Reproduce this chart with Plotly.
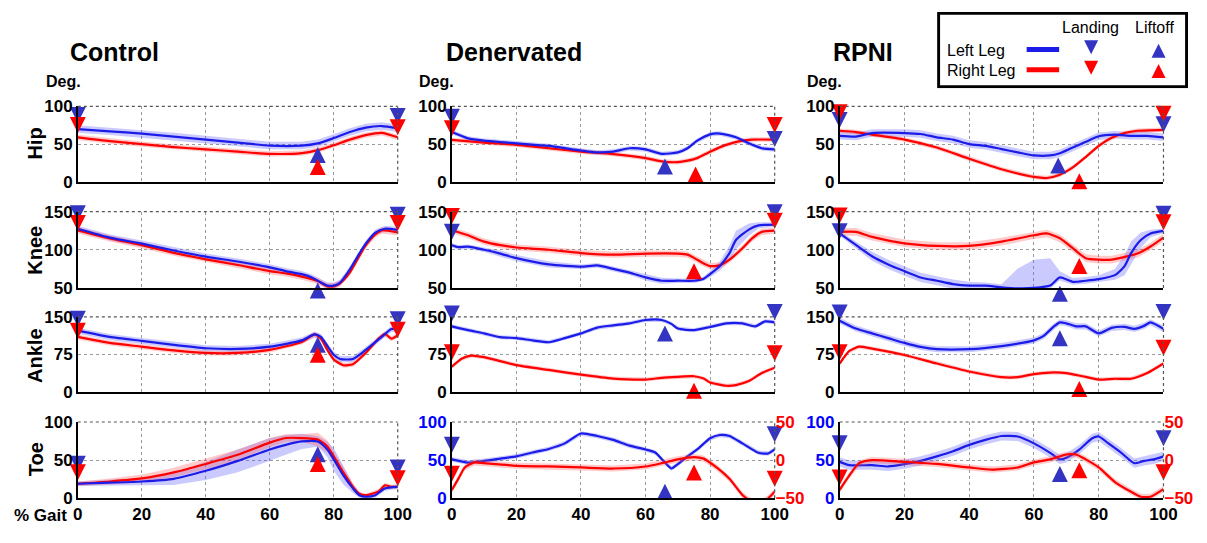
import plotly.graph_objects as go

W, H = 1207, 543
FONT = "Liberation Sans"

# ------------------------------------------------------------------ data
gait_ticks = [0, 20, 40, 60, 80, 100]
col_titles = ["Control", "Denervated", "RPNI"]
row_titles = ["Hip", "Knee", "Ankle", "Toe"]
row_ranges = [[0, 100], [50, 150], [0, 150], [0, 100]]
row_ticks = [[0, 50, 100], [50, 100, 150], [0, 75, 150], [0, 50, 100]]
toe_right_range = [-50, 50]
toe_right_ticks = [-50, 0, 50]

# ---- Control
ctrl_hip_L_x = [0, 10, 20, 30, 40, 50, 60, 70, 75, 80, 85, 90, 95, 100]
ctrl_hip_L_y = [70, 67, 64, 60, 56, 52, 48, 48, 51, 58, 66, 72, 74, 71]
ctrl_hip_R_x = [0, 10, 20, 30, 40, 50, 60, 70, 75, 80, 85, 90, 95, 100]
ctrl_hip_R_y = [59, 54, 50, 46, 43, 40, 37, 38, 42, 48.5, 56, 62, 65, 59]
ctrl_hip_L_sd = 5
ctrl_hip_R_sd = 3.5

ctrl_knee_L_x = [0, 10, 20, 30, 40, 50, 60, 65, 70, 73, 76, 78, 80, 82, 85, 88, 90, 93, 96, 100]
ctrl_knee_L_y = [127.6, 116, 108, 99, 91, 84.6, 77, 72, 68, 64, 57, 53, 53, 57, 74, 95, 108, 122.6, 127.6, 126]
ctrl_knee_R_x = [0, 10, 20, 30, 40, 50, 60, 65, 70, 75, 78, 80, 82, 85, 88, 90, 93, 95, 100]
ctrl_knee_R_y = [125.5, 115, 106, 96, 87.5, 80, 72, 69, 64.8, 59, 52, 52, 56, 70, 92, 105.7, 120, 125.5, 122.6]
ctrl_knee_L_sd = 4
ctrl_knee_R_sd = 4

ctrl_ankle_L_x = [0, 10, 20, 30, 40, 50, 60, 70, 74, 76, 78, 80, 82, 86, 90, 95, 98, 100]
ctrl_ankle_L_y = [122.5, 110, 102, 94, 87.4, 86, 90.6, 103, 115, 110, 92, 74.6, 66, 66, 84, 110, 125.7, 125.7]
ctrl_ankle_R_x = [0, 10, 20, 30, 40, 50, 60, 70, 74, 76, 78, 80, 83, 86, 90, 94, 96, 98, 100]
ctrl_ankle_R_y = [110, 98, 90.6, 83, 78, 78, 84, 100, 115, 106.5, 84, 65, 53.6, 55.5, 78, 106.5, 116, 106.5, 113]
ctrl_ankle_L_sd = 6
ctrl_ankle_R_sd = 5

ctrl_toe_L_x = [0, 10, 20, 30, 40, 50, 60, 65, 70, 75, 78, 80, 83, 86, 88, 90, 93, 96, 100]
ctrl_toe_L_y = [19, 20.4, 22, 25.5, 36, 49, 64, 70, 74.5, 74.5, 64, 51, 30, 13, 4, 2, 4, 13, 15]
ctrl_toe_L_sd = [3, 4, 5, 8, 12, 15, 15, 13, 10, 7, 10, 15, 12, 6, 3, 2, 3, 3, 3]
ctrl_toe_R_x = [0, 10, 20, 30, 40, 50, 60, 65, 70, 75, 78, 80, 83, 86, 88, 90, 94, 96, 98, 100]
ctrl_toe_R_y = [19, 22, 26, 34, 45, 57, 73, 79, 79, 77, 68, 55, 34, 15, 6, 4, 9, 17, 15, 15]
ctrl_toe_R_sd = [3, 4, 5, 6, 7, 7, 6, 5, 5, 9, 8, 7, 6, 5, 3, 2, 3, 3, 3, 3]

# ---- Denervated
den_hip_L_x = [0, 5, 10, 20, 30, 40, 45, 50, 55, 60, 65, 70, 73, 76, 80, 83, 88, 92, 96, 100]
den_hip_L_y = [66, 57.6, 54.6, 51, 47.6, 41.5, 39, 40, 44.5, 43, 37, 39, 44.5, 54.6, 63, 64, 59, 51, 44.5, 43]
den_hip_R_x = [0, 10, 20, 30, 40, 50, 60, 65, 70, 73, 76, 80, 85, 90, 93, 100]
den_hip_R_y = [55.5, 52, 49, 44.5, 40, 36.7, 31.4, 27, 26, 28, 31.4, 40, 49, 54.6, 56, 56]
den_hip_L_sd = 3
den_hip_R_sd = 3

den_knee_L_x = [0, 2, 5, 10, 15, 20, 30, 40, 45, 50, 55, 60, 65, 70, 75, 78, 80, 83, 86, 88, 92, 95, 100]
den_knee_L_y = [106, 103.4, 104, 100, 95, 89, 80.8, 77.8, 79.5, 75, 70, 63.7, 59.4, 59.4, 59.4, 62, 68, 78.6, 95.7, 112.8, 126.5, 132, 133]
den_knee_L_sd = [3, 3, 3, 3, 4, 4, 4, 3, 3, 3, 3, 4, 4, 3, 3, 3, 4, 6, 10, 12, 8, 4, 3]
den_knee_R_x = [0, 5, 10, 15, 20, 30, 40, 50, 60, 70, 73, 76, 78, 80, 83, 86, 90, 93, 96, 100]
den_knee_R_y = [125.6, 119, 110.7, 106, 103, 100, 95.7, 93.6, 95, 95, 93.6, 87, 82, 78.6, 79.5, 87, 102, 115, 123.5, 125]
den_knee_R_sd = 4

den_ankle_L_x = [0, 5, 10, 15, 20, 25, 30, 35, 40, 45, 50, 55, 60, 65, 68, 70, 75, 80, 85, 90, 94, 97, 100]
den_ankle_L_y = [131, 123.4, 117, 109.5, 107.6, 103, 99.4, 107.6, 117, 128.5, 133, 137, 143.7, 143.7, 136, 126.6, 123.4, 129.8, 137, 137, 131, 141, 139]
den_ankle_R_x = [0, 3, 6, 10, 20, 30, 40, 50, 60, 65, 70, 75, 78, 80, 85, 88, 92, 96, 100]
den_ankle_R_y = [50.6, 66.5, 72.8, 69.6, 53.8, 44.3, 34.8, 27, 25, 28.5, 30.4, 31.6, 27, 19, 12.7, 14, 22, 38, 48.7]
den_ankle_L_sd = 4
den_ankle_R_sd = 4

den_toe_L_x = [0, 5, 10, 15, 20, 25, 30, 35, 40, 45, 50, 55, 60, 63, 66, 68, 70, 73, 76, 80, 83, 86, 90, 95, 98, 100]
den_toe_L_y = [51, 46.8, 49, 52, 55, 60, 64.7, 72, 85, 81.7, 76.6, 69, 64, 60, 46.8, 39, 44.7, 55, 64, 78.7, 83, 81.7, 72, 59.6, 58.7, 64]
den_toe_R_x = [0, 2, 4, 7, 10, 20, 30, 40, 50, 60, 65, 70, 75, 78, 82, 86, 90, 92, 95, 98, 100]
den_toe_R_y = [-39, -24.5, -9.6, -3, -4, -7.4, -8.3, -9.6, -11, -8.3, -4, 1, 4, 2, -9.6, -24.5, -45.7, -52, -58, -50, -41.5]
den_toe_L_sd = 3
den_toe_R_sd = 4

# ---- RPNI
rpni_hip_L_x = [0, 5, 10, 20, 25, 30, 35, 40, 45, 50, 55, 60, 65, 68, 72, 76, 80, 85, 90, 95, 100]
rpni_hip_L_y = [61, 60, 64.7, 64.7, 63.4, 59, 56, 50, 47.7, 43.4, 39, 34.9, 34.9, 37.9, 45.5, 53, 60.4, 62.5, 61, 61, 59]
rpni_hip_R_x = [0, 5, 10, 20, 30, 40, 50, 60, 64, 68, 72, 76, 80, 84, 88, 92, 100]
rpni_hip_R_y = [67.7, 66, 62.5, 56, 45.5, 30.6, 16.6, 6.4, 5, 9.4, 19, 32.8, 47.7, 58.3, 64.7, 67.7, 69]
rpni_hip_L_sd = 5
rpni_hip_R_sd = 3

rpni_knee_L_x = [0, 5, 10, 15, 20, 25, 30, 35, 40, 45, 50, 55, 60, 65, 68, 72, 76, 80, 85, 88, 90, 93, 96, 100]
rpni_knee_L_y = [121.4, 106.4, 91.5, 80.8, 72, 63.7, 59.4, 55, 53, 53, 50.8, 49.5, 50, 53, 63.7, 58, 59.4, 61.5, 66.7, 78.6, 95.7, 112.8, 121.4, 124.8]
rpni_knee_L_sd_hi = [3, 5, 6, 6, 6, 6, 6, 6, 5, 4, 4, 26, 37, 36, 8, 5, 5, 5, 8, 15, 15, 10, 5, 3]
rpni_knee_L_sd_lo = [3, 5, 6, 6, 6, 6, 6, 6, 5, 4, 4, 4, 4, 4, 4, 4, 4, 4, 6, 12, 15, 10, 5, 3]
rpni_knee_R_x = [0, 5, 10, 20, 30, 40, 50, 60, 64, 68, 72, 76, 80, 84, 88, 92, 96, 100]
rpni_knee_R_y = [123.5, 123.5, 117, 108.5, 105, 105, 110.7, 119, 121.4, 115, 102, 89, 87, 87, 90.6, 95, 104.3, 116]
rpni_knee_R_sd = 5

rpni_ankle_L_x = [0, 5, 10, 15, 20, 25, 30, 40, 50, 60, 63, 66, 68, 70, 73, 76, 80, 84, 88, 91, 94, 96, 100]
rpni_ankle_L_y = [142.4, 126.6, 117, 107.6, 98, 90, 85.5, 85.5, 91.8, 103, 112, 130, 139, 137, 131, 131, 117, 128, 130, 126, 132, 139, 126]
rpni_ankle_R_x = [0, 3, 6, 10, 20, 30, 40, 50, 55, 60, 65, 70, 75, 80, 85, 90, 95, 100]
rpni_ankle_R_y = [57, 82, 90.5, 86.7, 74, 57, 41, 29.8, 29.8, 36, 39, 38, 31.6, 25, 26.6, 26.6, 38, 57]
rpni_ankle_L_sd = 6
rpni_ankle_R_sd = 4

rpni_toe_L_x = [0, 3, 10, 15, 20, 25, 30, 35, 40, 45, 50, 55, 60, 65, 68, 70, 74, 78, 80, 83, 87, 91, 94, 97, 100]
rpni_toe_L_y = [47.7, 43.4, 43.4, 41.7, 44.7, 49, 55, 61.7, 70, 76.6, 81.7, 81, 72, 59.6, 51, 53, 63.8, 78.7, 81, 72, 59.6, 46, 49, 51, 55]
rpni_toe_R_x = [0, 3, 6, 10, 20, 30, 40, 47, 55, 60, 65, 70, 73, 76, 80, 85, 90, 93, 96, 100]
rpni_toe_R_y = [-39, -20, -4, 0, -2.3, -5, -9.6, -12.5, -9.6, -3, 1, 7.4, 7.4, 1, -9.6, -28.7, -41.5, -48, -48, -38]
rpni_toe_L_sd = 6
rpni_toe_R_sd = 4

# ---- gait events (value at the triangle's tip): landing at 0% and 100%, liftoff (x, value)
ctrl_hip_land_L, ctrl_hip_land_R = [78, 76.7], [64.7, 61.7]
ctrl_hip_lift_L, ctrl_hip_lift_R = [75, 46.3], [75, 30.3]
ctrl_knee_land_L, ctrl_knee_land_R = [137.5, 135.4], [124.7, 124.7]
ctrl_knee_lift_L, ctrl_knee_lift_R = [75, 57], [75, 42.3]
ctrl_ankle_land_L, ctrl_ankle_land_R = [130.5, 129.1], [106.5, 108.5]
ctrl_ankle_lift_L, ctrl_ankle_lift_R = [75, 110.5], [75, 90.5]
ctrl_toe_land_L, ctrl_toe_land_R = [34.7, 29.7], [23.7, 15.7]
ctrl_toe_lift_L, ctrl_toe_lift_R = [75, 68.3], [75, 55.3]

den_hip_land_L, den_hip_land_R = [75.7, 46.3], [60.3, 64.7]
den_hip_lift_L, den_hip_lift_R = [66, 31], [75.5, 20.3]
den_knee_land_L, den_knee_land_R = [113.1, 138.7], [133.7, 127.7]
den_knee_lift_L, den_knee_lift_R = [66, 48.3], [75, 82.3]
den_ankle_land_L, den_ankle_land_R = [140.5, 143.5], [63.5, 61.5]
den_ankle_lift_L, den_ankle_lift_R = [66, 132.5], [75, 18.5]
den_toe_land_L, den_toe_land_R = [59.7, 73.4], [-28.3, -34.9]
den_toe_lift_L, den_toe_lift_R = [66, 18.9], [75, -5.7]

rpni_hip_land_L, rpni_hip_land_R = [71.3, 65.7], [81.7, 79.7]
rpni_hip_lift_L, rpni_hip_lift_R = [67.5, 32.3], [74, 11.3]
rpni_knee_land_L, rpni_knee_land_R = [113.7, 136.7], [134.4, 125.7]
rpni_knee_lift_L, rpni_knee_lift_R = [68, 52.7], [74, 89.1]
rpni_ankle_land_L, rpni_ankle_land_R = [142.5, 143.5], [63.5, 72.5]
rpni_ankle_lift_L, rpni_ankle_lift_R = [68, 123.3], [74, 22]
rpni_toe_land_L, rpni_toe_land_R = [61.7, 68.3], [-33.3, -26.3]
rpni_toe_lift_L, rpni_toe_lift_R = [68, 42.3], [74, -2.7]

# ------------------------------------------------------------------ style
BLUE_LINE = "#1c1ce8"
RED_LINE = "#ff0000"
BLUE_MK = "#3434c2"
RED_MK = "#ff0000"
BLUE_BAND = "rgba(90,90,255,0.32)"
RED_BAND = "rgba(255,80,80,0.30)"
GRID = "#9a9a9a"
MK = 16

COLS_PX = [(74, 399), (454, 782), (848, 1177)]
ROWS_PX = [(101, 179), (210, 289), (319, 397), (428, 507)]


def dom_x(a, b):
    return [a / W, b / W]


def dom_y(a, b):
    return [1 - b / H, 1 - a / H]


def expand(v, n):
    return list(v) if isinstance(v, (list, tuple)) else [v] * n


fig = go.Figure()

panels = [
    (0, 0, (ctrl_hip_L_x, ctrl_hip_L_y, ctrl_hip_L_sd, ctrl_hip_L_sd), (ctrl_hip_R_x, ctrl_hip_R_y, ctrl_hip_R_sd, ctrl_hip_R_sd),
     ctrl_hip_land_L, ctrl_hip_land_R, ctrl_hip_lift_L, ctrl_hip_lift_R),
    (1, 0, (ctrl_knee_L_x, ctrl_knee_L_y, ctrl_knee_L_sd, ctrl_knee_L_sd), (ctrl_knee_R_x, ctrl_knee_R_y, ctrl_knee_R_sd, ctrl_knee_R_sd),
     ctrl_knee_land_L, ctrl_knee_land_R, ctrl_knee_lift_L, ctrl_knee_lift_R),
    (2, 0, (ctrl_ankle_L_x, ctrl_ankle_L_y, ctrl_ankle_L_sd, ctrl_ankle_L_sd), (ctrl_ankle_R_x, ctrl_ankle_R_y, ctrl_ankle_R_sd, ctrl_ankle_R_sd),
     ctrl_ankle_land_L, ctrl_ankle_land_R, ctrl_ankle_lift_L, ctrl_ankle_lift_R),
    (3, 0, (ctrl_toe_L_x, ctrl_toe_L_y, ctrl_toe_L_sd, ctrl_toe_L_sd), (ctrl_toe_R_x, ctrl_toe_R_y, ctrl_toe_R_sd, ctrl_toe_R_sd),
     ctrl_toe_land_L, ctrl_toe_land_R, ctrl_toe_lift_L, ctrl_toe_lift_R),
    (0, 1, (den_hip_L_x, den_hip_L_y, den_hip_L_sd, den_hip_L_sd), (den_hip_R_x, den_hip_R_y, den_hip_R_sd, den_hip_R_sd),
     den_hip_land_L, den_hip_land_R, den_hip_lift_L, den_hip_lift_R),
    (1, 1, (den_knee_L_x, den_knee_L_y, den_knee_L_sd, den_knee_L_sd), (den_knee_R_x, den_knee_R_y, den_knee_R_sd, den_knee_R_sd),
     den_knee_land_L, den_knee_land_R, den_knee_lift_L, den_knee_lift_R),
    (2, 1, (den_ankle_L_x, den_ankle_L_y, den_ankle_L_sd, den_ankle_L_sd), (den_ankle_R_x, den_ankle_R_y, den_ankle_R_sd, den_ankle_R_sd),
     den_ankle_land_L, den_ankle_land_R, den_ankle_lift_L, den_ankle_lift_R),
    (3, 1, (den_toe_L_x, den_toe_L_y, den_toe_L_sd, den_toe_L_sd), (den_toe_R_x, den_toe_R_y, den_toe_R_sd, den_toe_R_sd),
     den_toe_land_L, den_toe_land_R, den_toe_lift_L, den_toe_lift_R),
    (0, 2, (rpni_hip_L_x, rpni_hip_L_y, rpni_hip_L_sd, rpni_hip_L_sd), (rpni_hip_R_x, rpni_hip_R_y, rpni_hip_R_sd, rpni_hip_R_sd),
     rpni_hip_land_L, rpni_hip_land_R, rpni_hip_lift_L, rpni_hip_lift_R),
    (1, 2, (rpni_knee_L_x, rpni_knee_L_y, rpni_knee_L_sd_lo, rpni_knee_L_sd_hi), (rpni_knee_R_x, rpni_knee_R_y, rpni_knee_R_sd, rpni_knee_R_sd),
     rpni_knee_land_L, rpni_knee_land_R, rpni_knee_lift_L, rpni_knee_lift_R),
    (2, 2, (rpni_ankle_L_x, rpni_ankle_L_y, rpni_ankle_L_sd, rpni_ankle_L_sd), (rpni_ankle_R_x, rpni_ankle_R_y, rpni_ankle_R_sd, rpni_ankle_R_sd),
     rpni_ankle_land_L, rpni_ankle_land_R, rpni_ankle_lift_L, rpni_ankle_lift_R),
    (3, 2, (rpni_toe_L_x, rpni_toe_L_y, rpni_toe_L_sd, rpni_toe_L_sd), (rpni_toe_R_x, rpni_toe_R_y, rpni_toe_R_sd, rpni_toe_R_sd),
     rpni_toe_land_L, rpni_toe_land_R, rpni_toe_lift_L, rpni_toe_lift_R),
]

tick_font = dict(family=FONT, size=17, color="black", weight="bold")
layout_axes = {}
shapes = []
right_axis_num = {1: 13, 2: 14}


def band(xa, ya, x, y, lo, hi, color):
    n = len(y)
    lo_v = [v - s for v, s in zip(y, expand(lo, n))]
    hi_v = [v + s for v, s in zip(y, expand(hi, n))]
    fig.add_trace(go.Scatter(x=list(x) + list(x)[::-1], y=hi_v + lo_v[::-1], fill="toself",
                             fillcolor=color, line=dict(width=0), mode="lines",
                             xaxis=xa, yaxis=ya, hoverinfo="skip", showlegend=False))


def line(xa, ya, x, y, color):
    fig.add_trace(go.Scatter(x=x, y=y, mode="lines", line=dict(color=color, width=2.2, shape="spline", smoothing=0.6),
                             xaxis=xa, yaxis=ya, showlegend=False))


def markers(xa, ya, xs, ys, symbol, color):
    fig.add_trace(go.Scatter(x=xs, y=ys, mode="markers", cliponaxis=False,
                             marker=dict(symbol=symbol, size=MK, color=color, line=dict(width=0)),
                             xaxis=xa, yaxis=ya, showlegend=False))


for (r, c, L, R, landL, landR, liftL, liftR) in panels:
    i = r * 3 + c + 1
    xa, ya = f"x{i}", f"y{i}"
    ya_red = ya
    dual = (r == 3 and c > 0)
    if dual:
        ya_red = f"y{right_axis_num[c]}"
    band(xa, ya, *L, BLUE_BAND)
    band(xa, ya_red, *R, RED_BAND)
    line(xa, ya_red, R[0], R[1], RED_LINE)
    line(xa, ya, L[0], L[1], BLUE_LINE)
    markers(xa, ya, [0, 100], landL, "arrow-down", BLUE_MK)
    markers(xa, ya, [liftL[0]], [liftL[1]], "arrow-up", BLUE_MK)
    markers(xa, ya_red, [0, 100], landR, "arrow-down", RED_MK)
    markers(xa, ya_red, [liftR[0]], [liftR[1]], "arrow-up", RED_MK)

    sfx = "" if i == 1 else str(i)
    layout_axes[f"xaxis{sfx}"] = dict(
        domain=dom_x(*COLS_PX[c]), range=[0, 100], anchor=ya, tickvals=gait_ticks,
        showticklabels=(r == 3), tickfont=tick_font, ticks="", showgrid=True,
        gridcolor=GRID, griddash="dot", gridwidth=1, zeroline=False,
        showline=True, linecolor="black", linewidth=1.5, fixedrange=True)
    yfont = dict(tick_font)
    if dual:
        yfont["color"] = "#0000ff"
    layout_axes[f"yaxis{sfx}"] = dict(
        domain=dom_y(*ROWS_PX[r]), range=row_ranges[r], anchor=xa, tickvals=row_ticks[r],
        tickfont=yfont, ticks="", showgrid=True, gridcolor=GRID, griddash="dot", gridwidth=1,
        zeroline=False, showline=True, linecolor="black", linewidth=1.5, fixedrange=True)
    # dotted frame on top and right edges
    xr = f"x{sfx} domain" if sfx else "x domain"
    yr = f"y{sfx} domain" if sfx else "y domain"
    shapes.append(dict(type="line", xref=xr, yref=yr, x0=0, x1=1, y0=1, y1=1,
                       line=dict(color="#555555", width=1.2, dash="dot"), layer="above"))
    shapes.append(dict(type="line", xref=xr, yref=yr, x0=1, x1=1, y0=0, y1=1,
                       line=dict(color="#555555", width=1.2, dash="dot"), layer="above"))
    if dual:
        rfont = dict(tick_font)
        rfont["color"] = "#ff0000"
        layout_axes[f"yaxis{right_axis_num[c]}"] = dict(
            overlaying=ya, anchor=xa, side="right", range=toe_right_range, tickvals=toe_right_ticks,
            tickfont=rfont, ticks="", showgrid=False, zeroline=False, showline=False, fixedrange=True)

# ------------------------------------------------------------------ legend (own axis, pixel units)
LEG = 15
layout_axes[f"xaxis{LEG}"] = dict(domain=dom_x(947, 1202), range=[947, 1202], visible=False, anchor=f"y{LEG}", fixedrange=True)
layout_axes[f"yaxis{LEG}"] = dict(domain=dom_y(3, 82), range=[82, 3], visible=False, anchor=f"x{LEG}", fixedrange=True)
legend_rows = [("Left Leg", BLUE_LINE, BLUE_MK, 42), ("Right Leg", RED_LINE, RED_MK, 63)]
for name, lc, mc, yy in legend_rows:
    fig.add_trace(go.Scatter(x=[1038, 1071], y=[yy, yy], mode="lines", line=dict(color=lc, width=5),
                             xaxis=f"x{LEG}", yaxis=f"y{LEG}", showlegend=False, hoverinfo="skip"))
    fig.add_trace(go.Scatter(x=[1103.5], y=[yy + 5], mode="markers", marker=dict(symbol="arrow-down", size=14, color=mc, line=dict(width=0)),
                             xaxis=f"x{LEG}", yaxis=f"y{LEG}", showlegend=False, hoverinfo="skip", cliponaxis=False))
    fig.add_trace(go.Scatter(x=[1172], y=[yy - 6], mode="markers", marker=dict(symbol="arrow-up", size=14, color=mc, line=dict(width=0)),
                             xaxis=f"x{LEG}", yaxis=f"y{LEG}", showlegend=False, hoverinfo="skip", cliponaxis=False))

annotations = []
leg_font = dict(family=FONT, size=16, color="black")
for txt, xx, yy, xanc in [("Landing", 1103, 19, "center"), ("Liftoff", 1168, 19, "center"),
                          ("Left Leg", 955, 43, "left"), ("Right Leg", 955, 64, "left")]:
    annotations.append(dict(text=txt, x=xx, y=yy, xref=f"x{LEG}", yref=f"y{LEG}", xanchor=xanc,
                            yanchor="middle", showarrow=False, font=leg_font))

shapes.append(dict(type="rect", xref=f"x{LEG}", yref=f"y{LEG}", x0=948.5, x1=1200.5, y0=4.5, y1=80.5,
                   line=dict(color="black", width=3), layer="below"))

# column titles, "Deg." labels, row labels
title_font = dict(family=FONT, size=25, color="black", weight="bold")
for txt, cx in zip(col_titles, [111, 517, 872]):
    annotations.append(dict(text=txt, x=cx / W, y=1 - 45 / H, xref="paper", yref="paper",
                            xanchor="center", yanchor="middle", showarrow=False, font=title_font))
for cx in [59, 438, 833]:
    annotations.append(dict(text="Deg.", x=cx / W, y=1 - 75 / H, xref="paper", yref="paper",
                            xanchor="center", yanchor="middle", showarrow=False,
                            font=dict(family=FONT, size=16, color="black", weight="bold")))
for txt, cy in zip(row_titles, [140, 250, 360, 467]):
    annotations.append(dict(text=txt, x=31 / W, y=1 - cy / H, xref="paper", yref="paper",
                            xanchor="center", yanchor="middle", textangle=-90, showarrow=False,
                            font=dict(family=FONT, size=20, color="black", weight="bold")))
annotations.append(dict(text="% Gait", x=36 / W, y=1 - 525 / H, xref="paper", yref="paper",
                        xanchor="center", yanchor="middle", showarrow=False,
                        font=dict(family=FONT, size=17, color="black", weight="bold")))

fig.update_layout(width=W, height=H, autosize=False, margin=dict(l=0, r=0, t=0, b=0),
                  paper_bgcolor="white", plot_bgcolor="white", showlegend=False,
                  annotations=annotations, shapes=shapes, **layout_axes)

fig.write_html("out.html", config={"displayModeBar": False})
